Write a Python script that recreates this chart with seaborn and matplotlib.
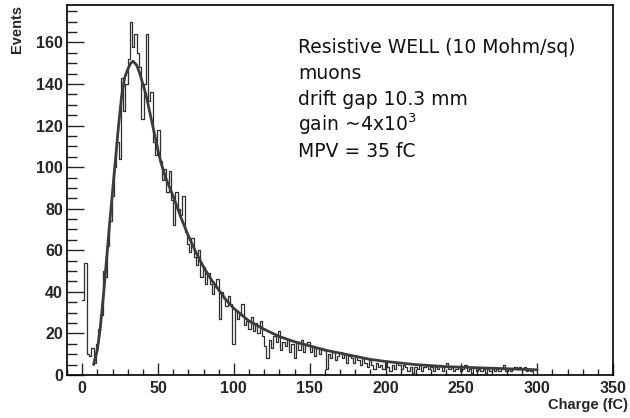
import matplotlib
matplotlib.use("Agg")
import matplotlib.pyplot as plt
from matplotlib.ticker import MultipleLocator
import seaborn as sns
import pandas as pd

# histogram: 200 bins of 1.5 fC from 0 to 300
bin_width = 1.5
counts = [
    36, 54, 10, 9, 13, 6, 15, 22, 29, 50,
    47, 62, 74, 86, 100, 112, 104, 143, 127, 140,
    152, 170, 158, 164, 155, 148, 123, 140, 164, 132,
    136, 112, 106, 118, 103, 94, 99, 88, 98, 84,
    72, 88, 80, 77, 86, 69, 63, 59, 66, 57,
    53, 60, 47, 52, 44, 49, 44, 39, 43, 46,
    27, 40, 37, 33, 38, 34, 15, 31, 27, 29,
    34, 24, 26, 22, 28, 21, 25, 20, 26, 19,
    14, 8, 17, 13, 19, 16, 21, 12, 16, 14,
    17, 11, 15, 8, 16, 12, 17, 11, 15, 16,
    11, 14, 9, 13, 10, 13, 12, 3, 10, 8,
    11, 7, 9, 11, 8, 10, 6, 9, 8, 6,
    9, 7, 5, 8, 6, 4, 7, 5, 3, 6,
    4, 5, 3, 6, 4, 2, 5, 3, 6, 5,
    3, 5, 4, 2, 4, 1, 4, 3, 5, 2,
    4, 5, 3, 4, 2, 4, 3, 5, 2, 4,
    6, 3, 4, 2, 3, 4, 2, 3, 5, 2,
    3, 1, 4, 2, 3, 2, 3, 1, 3, 2,
    4, 2, 3, 2, 3, 5, 2, 3, 2, 3,
    4, 3, 4, 3, 4, 2, 3, 2, 0, 0,
]

# Landau fit curve
fit_x = [7.5, 10, 12, 14, 16, 18, 20, 22, 24, 26, 28, 30, 32, 33.5, 36, 38, 40,
         42, 45, 48, 50, 52, 55, 60, 65, 70, 75, 80, 85, 90, 95, 100, 110, 120,
         130, 140, 150, 160, 170, 180, 190, 200, 220, 240, 260, 280, 300]
fit_y = [5, 12, 23, 38, 55, 72, 88, 104, 120, 134, 143, 147, 150, 151, 149, 145, 140,
         135, 125, 115, 108, 102, 95, 86, 76, 67, 59, 52, 46, 41, 36, 32, 26, 22,
         18.5, 16, 14, 12, 10.5, 9, 7.5, 6.5, 5, 4, 3.5, 3, 2.5]

notes = ["Resistive WELL (10 Mohm/sq)", "muons", "drift gap 10.3 mm",
         r"gain ~4x10$^{3}$", "MPV = 35 fC"]

n_bins = len(counts)
centers = [bin_width * (i + 0.5) for i in range(n_bins)]
hist_df = pd.DataFrame({"charge": centers, "events": counts})
fit_df = pd.DataFrame({"charge": fit_x, "events": fit_y})

sns.set_style("white")
plt.rcParams["font.family"] = ["DejaVu Sans"]

fig = plt.figure(figsize=(6.3, 4.18), dpi=100)
ax = fig.add_axes([67 / 630, 1 - 375 / 418, 546 / 630, 370 / 418])

sns.histplot(data=hist_df, x="charge", weights="events", binwidth=bin_width,
             binrange=(0, bin_width * n_bins), element="step", fill=False,
             color="#2e2e2e", linewidth=0.9, ax=ax)
sns.lineplot(data=fit_df, x="charge", y="events", color="#3c3c3c",
             linewidth=2.0, ax=ax)

ax.set_xlim(-10, 350)
ax.set_ylim(0, 178)
ax.xaxis.set_major_locator(MultipleLocator(50))
ax.xaxis.set_minor_locator(MultipleLocator(10))
ax.yaxis.set_major_locator(MultipleLocator(20))
ax.yaxis.set_minor_locator(MultipleLocator(5))

ax.tick_params(axis="y", which="major", direction="in", length=12, width=1,
               pad=3, left=True, right=False)
ax.tick_params(axis="y", which="minor", direction="in", length=7, width=1,
               left=True, right=False)
ax.tick_params(axis="x", which="major", direction="in", length=8.5, width=1,
               pad=4, bottom=True, top=False)
ax.tick_params(axis="x", which="minor", direction="in", length=4.3, width=1,
               bottom=True, top=False)
for lab in ax.get_xticklabels() + ax.get_yticklabels():
    lab.set_fontfamily("Liberation Sans")
    lab.set_fontweight("bold")
    lab.set_fontsize(11.5)

for sp in ax.spines.values():
    sp.set_color("black")
    sp.set_linewidth(1.2)

ax.set_xlabel("Charge (fC)", loc="right", fontfamily="Liberation Sans",
              fontweight="bold", fontsize=10.5)
ax.xaxis.set_label_coords(1.0275, -0.062)
ax.set_ylabel("Events", loc="top", fontfamily="Liberation Sans",
              fontweight="bold", fontsize=10.5)
ax.yaxis.set_label_coords(-0.079, 1.0)

ys = [0.870, 0.800, 0.730, 0.659, 0.589]
for txt, y in zip(notes, ys):
    ax.text(0.423, y, txt, transform=ax.transAxes, fontsize=13.5,
            color="#111111", va="baseline", ha="left")

fig.savefig("out.png", dpi=100)
